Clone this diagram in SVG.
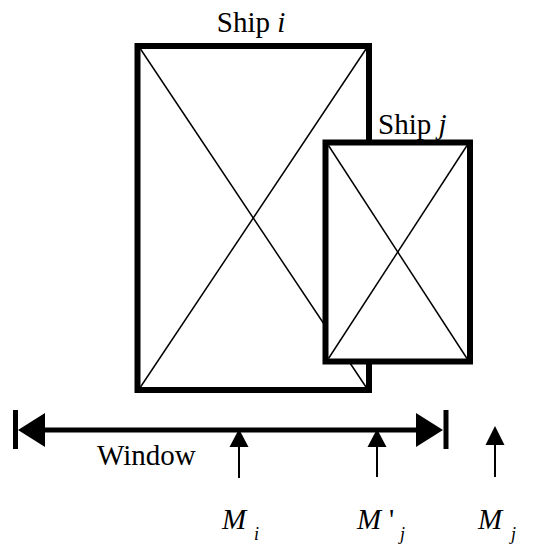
<svg xmlns="http://www.w3.org/2000/svg" width="551" height="548" viewBox="0 0 551 548" font-family="Liberation Serif, serif">
<style>
.box{fill:#fff;stroke:#000;stroke-width:6}
.diag{stroke:#000;stroke-width:1.5;fill:none}
.thin{stroke:#000;stroke-width:2}
</style>
<rect width="551" height="548" fill="#fff"/>
<g id="ship-i">
<rect class="box" x="137.5" y="46" width="231.5" height="344"/>
<line class="diag" x1="140.5" y1="49" x2="366" y2="387"/>
<line class="diag" x1="366" y1="49" x2="140.5" y2="387"/>
<text font-family="Liberation Serif, serif" font-size="29" x="251" y="32" text-anchor="middle">Ship <tspan font-style="italic">i</tspan></text>
</g>
<g id="ship-j">
<rect class="box" x="325.5" y="142.5" width="144.5" height="219"/>
<line class="diag" x1="328.5" y1="145.5" x2="467" y2="358.5"/>
<line class="diag" x1="467" y1="145.5" x2="328.5" y2="358.5"/>
<text font-family="Liberation Serif, serif" font-size="29" x="378" y="134">Ship <tspan font-style="italic">j</tspan></text>
</g>
<g id="connectors">
<line x1="15.5" y1="410" x2="15.5" y2="449" stroke="#000" stroke-width="5"/>
<line x1="446" y1="410" x2="446" y2="449" stroke="#000" stroke-width="5"/>
<line x1="40" y1="430" x2="420" y2="430" stroke="#000" stroke-width="5"/>
<polygon points="18,430 45,413 45,447" fill="#000"/>
<polygon points="443,430 416,413 416,447" fill="#000"/>
<line class="thin" x1="239" y1="445" x2="239" y2="478"/>
<polygon points="239,429 229.5,447 248.5,447" fill="#000"/>
<line class="thin" x1="377" y1="445" x2="377" y2="477"/>
<polygon points="377,429 367.5,447 386.5,447" fill="#000"/>
<line class="thin" x1="495" y1="443" x2="495" y2="477"/>
<polygon points="495,426 485.5,445 504.5,445" fill="#000"/>
</g>
<g id="labels" font-family="Liberation Serif, serif">
<text font-size="29" x="97" y="465">Window</text>
<text font-size="29" font-style="italic" x="222" y="529">M</text><text font-size="18" font-style="italic" x="254" y="540">i</text>
<text font-size="29" font-style="italic" x="357" y="529">M</text><text font-size="29" x="389" y="529">'</text><text font-size="18" font-style="italic" x="400" y="540">j</text>
<text font-size="29" font-style="italic" x="478" y="529">M</text><text font-size="18" font-style="italic" x="511" y="540">j</text>
</g>
</svg>
